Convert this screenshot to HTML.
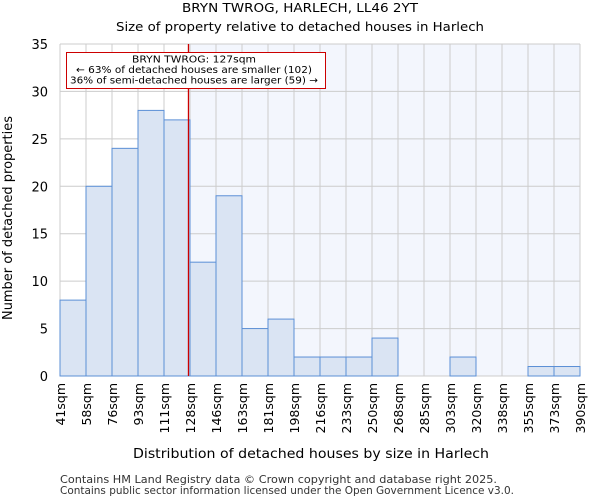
<!DOCTYPE html>
<html><head><meta charset="utf-8"><style>
body{margin:0;background:#fff;font-family:"DejaVu Sans","Liberation Sans",sans-serif}
</style></head><body>
<svg id="c" width="600" height="500" viewBox="0 0 600 500" xmlns="http://www.w3.org/2000/svg" font-family="DejaVu Sans, Liberation Sans, sans-serif">
<rect width="600" height="500" fill="#fff"/>
<text x="300" y="12" text-anchor="middle" font-size="12.5" textLength="236" lengthAdjust="spacingAndGlyphs">BRYN TWROG, HARLECH, LL46 2YT</text>
<text x="300" y="31" text-anchor="middle" font-size="12.5" textLength="368" lengthAdjust="spacingAndGlyphs">Size of property relative to detached houses in Harlech</text>
<g id="plot"></g>
<text x="311" y="458" text-anchor="middle" font-size="13" textLength="356" lengthAdjust="spacingAndGlyphs">Distribution of detached houses by size in Harlech</text>
<text transform="translate(12,218) rotate(-90)" text-anchor="middle" font-size="13" textLength="204" lengthAdjust="spacingAndGlyphs">Number of detached properties</text>
<text x="60" y="483" font-size="11" fill="#333" textLength="437" lengthAdjust="spacingAndGlyphs">Contains HM Land Registry data © Crown copyright and database right 2025.</text>
<text x="60" y="494" font-size="11" fill="#333" textLength="454" lengthAdjust="spacingAndGlyphs">Contains public sector information licensed under the Open Government Licence v3.0.</text>
</svg>
<script>
const binLabels=["41sqm","58sqm","76sqm","93sqm","111sqm","128sqm","146sqm","163sqm","181sqm","198sqm","216sqm","233sqm","250sqm","268sqm","285sqm","303sqm","320sqm","338sqm","355sqm","373sqm","390sqm"];
const counts=[8,20,24,28,27,12,19,5,6,2,2,2,4,0,0,2,0,0,1,1];
const yTicks=[0,5,10,15,20,25,30,35];
const marker=127;
const binEdges=[41,58,76,93,111,128,146,163,181,198,216,233,250,268,285,303,320,338,355,373,390];
const NS="http://www.w3.org/2000/svg";
const g=document.getElementById('plot');
const L=60,R=580,T=44,B=376,yMax=35;
const n=counts.length,bw=(R-L)/n;
const xi=i=>L+i*bw;
const y=v=>B-v/yMax*(B-T);
function xv(v){for(let i=0;i<binEdges.length-1;i++){if(v<=binEdges[i+1])return xi(i)+(v-binEdges[i])/(binEdges[i+1]-binEdges[i])*bw;}return R;}
function mk(t,a){const e=document.createElementNS(NS,t);for(const k in a)e.setAttribute(k,a[k]);g.appendChild(e);return e;}
const mx=xv(marker);
let e;
e=mk('rect',{x:mx,y:T,width:R-mx,height:B-T,fill:'#f3f6fd'});


for(let i=0;i<=n;i++){e=mk('line',{x1:xi(i),x2:xi(i),y1:T,y2:B,stroke:'#cccccc','stroke-width':1});

}
yTicks.forEach(t=>{e=mk('line',{x1:L,x2:R,y1:y(t),y2:y(t),stroke:'#cccccc','stroke-width':1});


const tx=mk('text',{x:L-12,y:y(t)+5,'text-anchor':'end','font-size':13});tx.textContent=t;

});
counts.forEach((c,i)=>{if(c<=0)return;e=mk('rect',{x:xi(i),y:y(c),width:bw,height:B-y(c),fill:'#dae4f3',stroke:'#5b8fd6','stroke-width':1});

});
binLabels.forEach((l,i)=>{const tx=mk('text',{transform:`translate(${xi(i)+5},383) rotate(-90)`,'text-anchor':'end','font-size':12.5});tx.textContent=l;

});
e=mk('line',{x1:mx,x2:mx,y1:T,y2:B,stroke:'#cc0000','stroke-width':1.3});


e=mk('rect',{x:66.5,y:52.5,width:259,height:36,fill:'#fff',stroke:'#cc0000','stroke-width':1});


const annLines=["BRYN TWROG: 127sqm","← 63% of detached houses are smaller (102)","36% of semi-detached houses are larger (59) →"];
const annLens=[124,236,248];
annLines.forEach((s,k)=>{const tx=mk('text',{x:194,y:62.5+k*10.5,'text-anchor':'middle','font-size':10,textLength:annLens[k],lengthAdjust:'spacingAndGlyphs'});tx.textContent=s;

});
</script>
</body></html>
